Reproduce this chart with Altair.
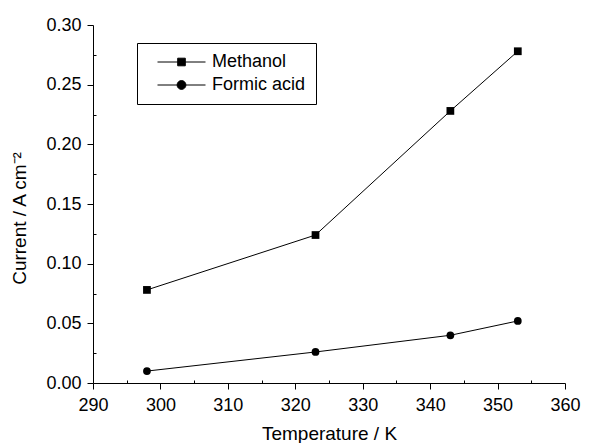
import altair as alt
import pandas as pd

temperature = [298, 323, 343, 353]
methanol = [0.078, 0.124, 0.228, 0.278]
formic = [0.010, 0.026, 0.040, 0.052]
series_names = ["Methanol", "Formic acid"]

x_major = [290, 300, 310, 320, 330, 340, 350, 360]
x_minor = [295, 305, 315, 325, 335, 345, 355]
y_major = [0.00, 0.05, 0.10, 0.15, 0.20, 0.25, 0.30]
y_minor = [0.025, 0.075, 0.125, 0.175, 0.225, 0.275]

rows = []
for t, v in zip(temperature, methanol):
    rows.append({"T": t, "I": v, "series": series_names[0]})
for t, v in zip(temperature, formic):
    rows.append({"T": t, "I": v, "series": series_names[1]})
df = pd.DataFrame(rows)

FONT = "Liberation Sans"
xs = alt.Scale(domain=[290, 360], nice=False, zero=False)
ys = alt.Scale(domain=[0, 0.30], nice=False, zero=False)

major_x_axis = alt.Axis(values=x_major, format="d", title="Temperature / K", orient="bottom",
                        tickSize=6, labelPadding=7, titlePadding=10, grid=False)
major_y_axis = alt.Axis(values=y_major, format=".2f", title="Current / A cm⁻²", orient="left",
                        tickSize=6, labelPadding=6, titlePadding=16, titleY=193, grid=False)
minor_x_axis = alt.Axis(values=x_minor, labels=False, title=None, domain=False, orient="bottom",
                        tickSize=3, offset=-3, grid=False)
minor_y_axis = alt.Axis(values=y_minor, labels=False, title=None, domain=False, orient="left",
                        tickSize=3, offset=-3, grid=False)

base = alt.Chart(df)

lines = base.mark_line(color="black", strokeWidth=1).encode(
    x=alt.X("T:Q", scale=xs, axis=major_x_axis),
    y=alt.Y("I:Q", scale=ys, axis=major_y_axis),
    detail="series:N",
)

points = base.mark_point(filled=True, color="black", opacity=1, size=60).encode(
    x=alt.X("T:Q", scale=xs, axis=None),
    y=alt.Y("I:Q", scale=ys, axis=None),
    shape=alt.Shape("series:N", scale=alt.Scale(domain=series_names, range=["square", "circle"]),
                    legend=None),
)

sq_path = "M0.375,0L12.375,0M5.425,-0.95L7.325,-0.95L7.325,0.95L5.425,0.95Z"
ci_path = "M0.375,0L12.375,0M5.275,0A1.1,1.1,0,1,0,7.475,0A1.1,1.1,0,1,0,5.275,0Z"

legend_layer = base.mark_point(filled=True, color="black", fill="black", stroke="black",
                               strokeWidth=1, opacity=0).encode(
    x=alt.X("T:Q", scale=xs, axis=minor_x_axis),
    y=alt.Y("I:Q", scale=ys, axis=minor_y_axis),
    shape=alt.Shape("series:N",
                    scale=alt.Scale(domain=series_names, range=[sq_path, ci_path]),
                    legend=alt.Legend(title=None, orient="none", legendX=44, legendY=18,
                                      padding=10, rowPadding=5, strokeColor="black",
                                      symbolSize=64, symbolOpacity=1,
                                      symbolStrokeWidth=1,
                                      labelOffset=47, labelFont=FONT, labelFontSize=18,
                                      labelColor="black",
                                      labelExpr="datum.label + '\u00a0\u00a0'")),
)

chart = alt.layer(lines, points, legend_layer).resolve_scale(
    shape="independent"
).resolve_axis(
    x="independent", y="independent"
).properties(
    width=472, height=358,
    autosize=alt.AutoSizeParams(type="none"),
    padding={"left": 85, "top": 17, "right": 20, "bottom": 60},
    background="white",
).configure_view(stroke=None).configure_axis(
    labelFont=FONT, labelFontSize=18, labelColor="black",
    titleFont=FONT, titleFontSize=19, titleFontWeight="normal", titleColor="black",
    domainColor="black", tickColor="black", domainWidth=1, tickWidth=1,
    labelFlush=False, labelOverlap=False,
)

chart.save("out.html", embed_options={"renderer": "svg", "actions": False})
